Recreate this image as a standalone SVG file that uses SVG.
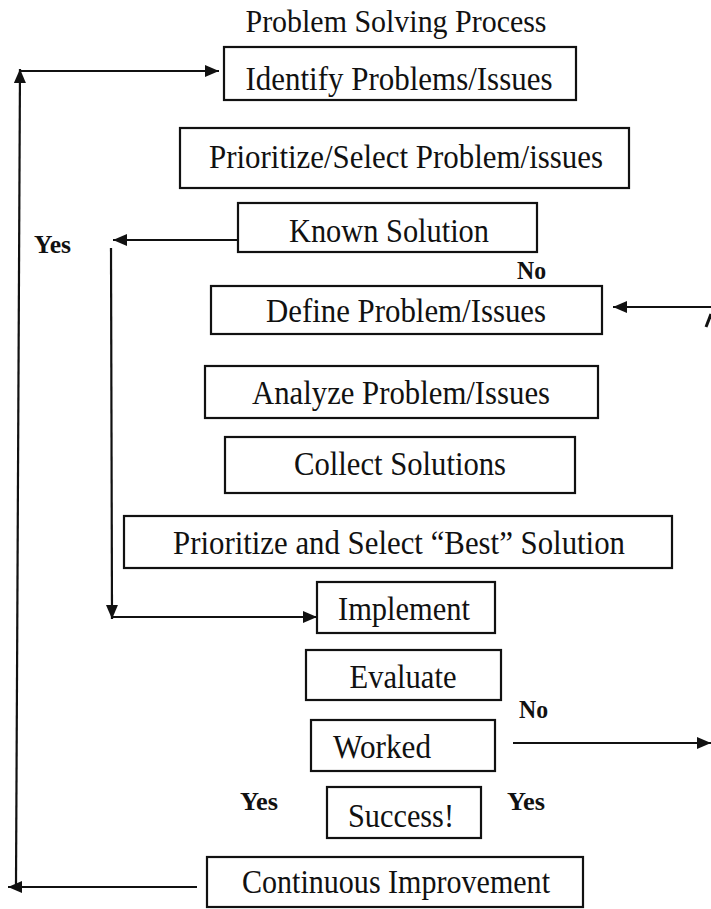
<svg xmlns="http://www.w3.org/2000/svg" width="711" height="909" viewBox="0 0 711 909">
<style>
.box{fill:#fff;stroke:#111;stroke-width:2.2}
.t{font-family:"Liberation Serif","Times New Roman",serif;font-size:34px;fill:#111;text-anchor:middle}
.ttl{font-family:"Liberation Serif","Times New Roman",serif;font-size:32px;fill:#111;text-anchor:middle}
.lbl{font-family:"Liberation Serif","Times New Roman",serif;font-size:25px;font-weight:bold;fill:#111}
.ln{fill:none;stroke:#111;stroke-width:2.2}
</style>
<defs>
<marker id="ah" viewBox="0 0 14 12" refX="14" refY="6" markerWidth="14" markerHeight="12" markerUnits="userSpaceOnUse" orient="auto">
<path d="M0,0 L14,6 L0,12 Z" fill="#111"/>
</marker>
</defs>
<rect width="711" height="909" fill="#fff"/>
<text id="title" class="ttl" x="396" y="32" textLength="301" lengthAdjust="spacingAndGlyphs">Problem Solving Process</text>

<g id="connectors">
<path class="ln" d="M16,884 L20,69" marker-end="url(#ah)"/>
<path class="ln" d="M20,71 L219,71" marker-end="url(#ah)"/>
<path class="ln" d="M237,240 L113,240" marker-end="url(#ah)"/>
<path class="ln" d="M111,248 L112,619" marker-end="url(#ah)"/>
<path class="ln" d="M112,617 L317,617" marker-end="url(#ah)"/>
<path class="ln" d="M711,307 L613,307" marker-end="url(#ah)"/>
<path d="M706,327 L711,314" fill="none" stroke="#111" stroke-width="3"/>
<path class="ln" d="M513,743 L711,743" marker-end="url(#ah)"/>
<path class="ln" d="M197,887 L8,887" marker-end="url(#ah)"/>
</g>

<g id="n-identify"><rect class="box" x="224" y="47" width="352" height="53"/><text class="t" x="399" y="90" textLength="307" lengthAdjust="spacingAndGlyphs">Identify Problems/Issues</text></g>
<g id="n-prioritize"><rect class="box" x="180" y="128" width="449" height="60"/><text class="t" x="406" y="168" textLength="394" lengthAdjust="spacingAndGlyphs">Prioritize/Select Problem/issues</text></g>
<g id="n-known"><rect class="box" x="238" y="203" width="299" height="49"/><text class="t" x="389" y="242" textLength="200" lengthAdjust="spacingAndGlyphs">Known Solution</text></g>
<g id="n-define"><rect class="box" x="211" y="286" width="391" height="48"/><text class="t" x="406" y="322" textLength="280" lengthAdjust="spacingAndGlyphs">Define Problem/Issues</text></g>
<g id="n-analyze"><rect class="box" x="205" y="366" width="393" height="52"/><text class="t" x="401" y="404" textLength="298" lengthAdjust="spacingAndGlyphs">Analyze Problem/Issues</text></g>
<g id="n-collect"><rect class="box" x="225" y="437" width="350" height="56"/><text class="t" x="400" y="475" textLength="212" lengthAdjust="spacingAndGlyphs">Collect Solutions</text></g>
<g id="n-best"><rect class="box" x="124" y="516" width="548" height="52"/><text class="t" x="399" y="554" textLength="452" lengthAdjust="spacingAndGlyphs">Prioritize and Select “Best” Solution</text></g>
<g id="n-implement"><rect class="box" x="317" y="582" width="178" height="51"/><text class="t" x="404" y="620" textLength="132" lengthAdjust="spacingAndGlyphs">Implement</text></g>
<g id="n-evaluate"><rect class="box" x="306" y="650" width="195" height="50"/><text class="t" x="403" y="688" textLength="107" lengthAdjust="spacingAndGlyphs">Evaluate</text></g>
<g id="n-worked"><rect class="box" x="311" y="720" width="184" height="51"/><text class="t" x="333" y="758" style="text-anchor:start" textLength="98" lengthAdjust="spacingAndGlyphs">Worked</text></g>
<g id="n-success"><rect class="box" x="327" y="787" width="154" height="51"/><text class="t" x="401" y="827" textLength="106" lengthAdjust="spacingAndGlyphs">Success!</text></g>
<g id="n-continuous"><rect class="box" x="207" y="857" width="376" height="50"/><text class="t" x="396" y="893" textLength="308" lengthAdjust="spacingAndGlyphs">Continuous Improvement</text></g>

<g id="labels">
<text class="lbl" x="34" y="253" textLength="37" lengthAdjust="spacingAndGlyphs">Yes</text>
<text class="lbl" x="517" y="279" textLength="29" lengthAdjust="spacingAndGlyphs">No</text>
<text class="lbl" x="519" y="718" textLength="29" lengthAdjust="spacingAndGlyphs">No</text>
<text class="lbl" x="240" y="810" textLength="38" lengthAdjust="spacingAndGlyphs">Yes</text>
<text class="lbl" x="507" y="810" textLength="38" lengthAdjust="spacingAndGlyphs">Yes</text>
</g>
</svg>
